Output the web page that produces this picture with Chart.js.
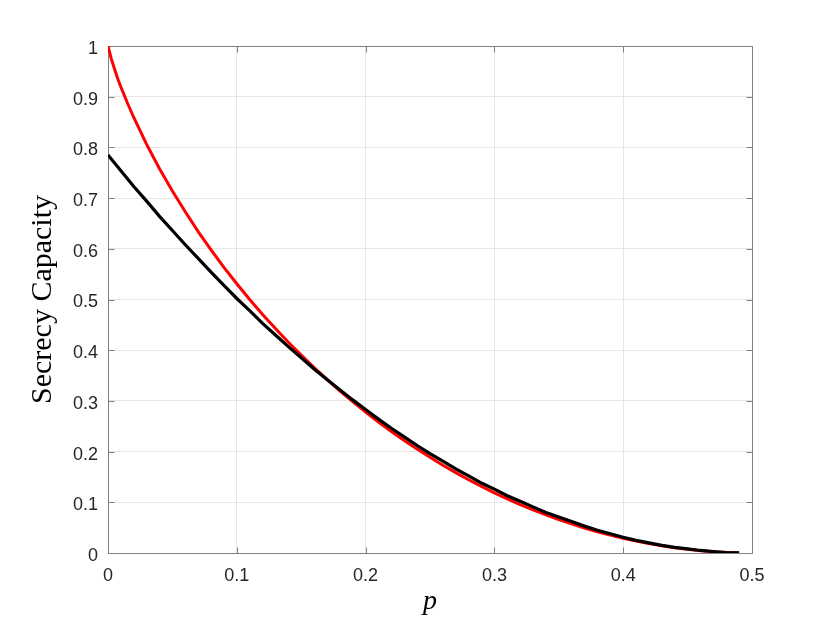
<!DOCTYPE html>
<html>
<head>
<meta charset="utf-8">
<script src="https://cdn.jsdelivr.net/npm/chart.js@4.4.1/dist/chart.umd.min.js"></script>
<style>
  html, body { margin: 0; padding: 0; background: #ffffff; }
  #wrap { width: 830px; height: 623px; position: relative; }
</style>
</head>
<body>
<div id="wrap"><canvas id="c" width="830" height="623"></canvas></div>
<script>
// ---- data ----
const xTitle = 'p';
const yTitle = 'Secrecy Capacity';

// red curve
const pRed = [0, 0.0025, 0.005, 0.0075, 0.01, 0.015, 0.02, 0.03, 0.04, 0.05, 0.06, 0.07, 0.08, 0.09,
  0.10, 0.11, 0.12, 0.13, 0.14, 0.15, 0.16, 0.17, 0.18, 0.19, 0.20, 0.21, 0.22, 0.23, 0.24,
  0.25, 0.26, 0.27, 0.28, 0.29, 0.30, 0.31, 0.32, 0.33, 0.34, 0.35, 0.36, 0.37, 0.38, 0.39,
  0.40, 0.41, 0.42, 0.43, 0.44, 0.45, 0.46, 0.47, 0.48, 0.49];
const redValues = [1.000, 0.975, 0.955, 0.936, 0.919, 0.888, 0.859, 0.806, 0.758, 0.714, 0.673, 0.634, 0.598, 0.5635,
  0.531, 0.500, 0.4706, 0.4426, 0.4158, 0.3902, 0.3657, 0.3423, 0.3199, 0.2985, 0.2781, 0.2585, 0.2398, 0.2220, 0.2050,
  0.1887, 0.1732, 0.1585, 0.1445, 0.1313, 0.1187, 0.1068, 0.0956, 0.0851, 0.0752, 0.0659, 0.0573, 0.0493, 0.0419, 0.0352,
  0.0290, 0.0235, 0.0185, 0.0142, 0.0104, 0.0072, 0.0046, 0.0026, 0.0012, 0.0003];

// black curve
const pBlack = [0, 0.01, 0.02, 0.03, 0.04, 0.05, 0.06, 0.07, 0.08, 0.09,
  0.10, 0.11, 0.12, 0.13, 0.14, 0.15, 0.16, 0.17, 0.18, 0.19, 0.20, 0.21, 0.22, 0.23, 0.24,
  0.25, 0.26, 0.27, 0.28, 0.29, 0.30, 0.31, 0.32, 0.33, 0.34, 0.35, 0.36, 0.37, 0.38, 0.39,
  0.40, 0.41, 0.42, 0.43, 0.44, 0.45, 0.46, 0.47, 0.48, 0.49];
const blackValues = [0.785, 0.754, 0.723, 0.694, 0.664, 0.636, 0.608, 0.581, 0.554, 0.528,
  0.502, 0.478, 0.453, 0.430, 0.407, 0.385, 0.363, 0.342, 0.322, 0.302, 0.283, 0.264, 0.246, 0.229, 0.212,
  0.196, 0.181, 0.166, 0.152, 0.138, 0.126, 0.113, 0.102, 0.091, 0.080, 0.071, 0.062, 0.053, 0.045, 0.038,
  0.031, 0.025, 0.020, 0.015, 0.011, 0.008, 0.005, 0.003, 0.001, 0.0003];

// axis ticks
const xTicks = [0, 0.1, 0.2, 0.3, 0.4, 0.5];
const yTicks = [0, 0.1, 0.2, 0.3, 0.4, 0.5, 0.6, 0.7, 0.8, 0.9, 1];

const toPoints = (xs, ys) => xs.map((x, i) => ({ x: x, y: ys[i] }));

// frame + inward ticks (MATLAB box style)
const boxPlugin = {
  id: 'matlabBox',
  beforeDatasetsDraw(chart) {
    const { ctx, chartArea: a, scales } = chart;
    ctx.save();
    ctx.strokeStyle = '#808080';
    ctx.lineWidth = 1;
    const L = Math.round(a.left) + 0.5, R = Math.round(a.right) + 0.5;
    const T = Math.round(a.top) + 0.5, B = Math.round(a.bottom) + 0.5;
    ctx.strokeRect(L, T, R - L, B - T);
    const tl = 6;
    ctx.beginPath();
    xTicks.forEach(v => {
      const px = Math.round(scales.x.getPixelForValue(v)) + 0.5;
      ctx.moveTo(px, B); ctx.lineTo(px, B - tl);
      ctx.moveTo(px, T); ctx.lineTo(px, T + tl);
    });
    yTicks.forEach(v => {
      const py = Math.round(scales.y.getPixelForValue(v)) + 0.5;
      ctx.moveTo(L, py); ctx.lineTo(L + tl, py);
      ctx.moveTo(R, py); ctx.lineTo(R - tl, py);
    });
    ctx.stroke();
    ctx.restore();
  }
};

new Chart(document.getElementById('c'), {
  type: 'line',
  data: {
    datasets: [
      {
        data: toPoints(pRed, redValues),
        borderColor: '#ff0000',
        borderWidth: 3,
        pointRadius: 0,
        tension: 0,
        fill: false,
        order: 1
      },
      {
        data: toPoints(pBlack, blackValues),
        borderColor: '#000000',
        borderWidth: 3.2,
        pointRadius: 0,
        tension: 0,
        fill: false,
        order: 0
      }
    ]
  },
  plugins: [boxPlugin],
  options: {
    responsive: false,
    animation: false,
    devicePixelRatio: 1,
    layout: { padding: { left: 0, right: 78, top: 46, bottom: 0 } },
    plugins: { legend: { display: false }, tooltip: { enabled: false } },
    scales: {
      x: {
        type: 'linear',
        min: 0, max: 0.5,
        afterFit(s) { s.height = 70; },
        afterBuildTicks(s) { s.ticks = xTicks.map(v => ({ value: v })); },
        grid: { color: '#e6e6e6', lineWidth: 1, drawTicks: false },
        border: { display: false },
        ticks: {
          padding: 12,
          color: '#262626',
          font: { family: '"Liberation Sans", Arial, sans-serif', size: 18 },
          maxRotation: 0,
          callback: v => String(Math.round(v * 10) / 10)
        },
        title: {
          display: true,
          text: xTitle,
          color: '#000000',
          font: { family: '"Liberation Serif", "Times New Roman", serif', size: 28, style: 'italic' },
          padding: { top: 0, bottom: 5 }
        }
      },
      y: {
        type: 'linear',
        min: 0, max: 1,
        afterFit(s) { s.width = 108; },
        afterBuildTicks(s) { s.ticks = yTicks.map(v => ({ value: v })); },
        grid: { color: '#e6e6e6', lineWidth: 1, drawTicks: false },
        border: { display: false },
        ticks: {
          padding: 10,
          labelOffset: 3,
          color: '#262626',
          font: { family: '"Liberation Sans", Arial, sans-serif', size: 18 },
          callback: v => String(Math.round(v * 10) / 10)
        },
        title: {
          display: true,
          text: yTitle,
          color: '#000000',
          font: { family: '"Liberation Serif", "Times New Roman", serif', size: 30 },
          padding: { top: 25, bottom: 0 }
        }
      }
    }
  }
});
</script>
</body>
</html>
